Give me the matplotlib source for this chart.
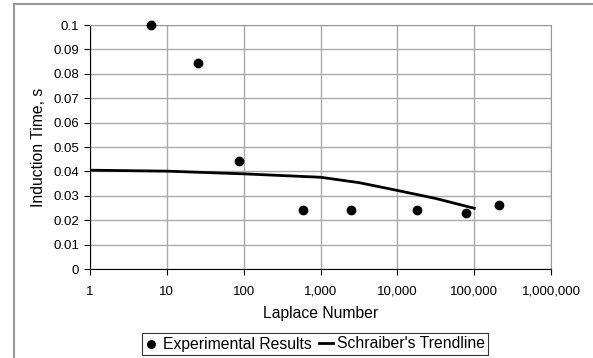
import matplotlib.pyplot as plt
from matplotlib.patches import Rectangle
from matplotlib.ticker import FuncFormatter, FixedLocator

plt.rcParams['font.family'] = ['Liberation Sans', 'DejaVu Sans']

# experimental points
laplace = [6.2, 25.5, 87, 585, 2470, 18000, 78000, 210000]
induction = [0.0998, 0.0843, 0.0443, 0.0240, 0.0241, 0.0243, 0.0231, 0.0262]

# Schraiber's trendline
trend_x = [1, 10, 100, 1000, 3162, 10000, 31623, 100000]
trend_y = [0.0405, 0.0401, 0.0390, 0.0376, 0.0354, 0.0322, 0.0289, 0.0249]

fig = plt.figure(figsize=(5.93, 3.58), dpi=100)
ax = fig.add_axes([90 / 593, 1 - 269 / 358, (551 - 90) / 593, (269 - 25) / 358])

# outer chart border
fig.patches.append(Rectangle((14 / 593, -0.1), 1.2, 1 - 4 / 358 + 0.1,
                             transform=fig.transFigure, fill=False,
                             edgecolor='#999999', linewidth=1.5))

ax.plot(trend_x, trend_y, color='black', linewidth=2,
        label="Schraiber's Trendline", zorder=3)
ax.scatter(laplace, induction, color='black', s=36,
           label='Experimental Results', zorder=4, clip_on=False)

ax.set_xscale('log')
ax.set_xlim(1, 1e6)
ax.set_ylim(0, 0.1)
ax.xaxis.set_major_locator(FixedLocator([1, 10, 100, 1e3, 1e4, 1e5, 1e6]))
ax.xaxis.set_minor_locator(FixedLocator([]))
ax.xaxis.set_major_formatter(FuncFormatter(lambda v, p: f'{int(round(v)):,}'))
ax.set_yticks([i / 100 for i in range(11)])
ax.yaxis.set_major_formatter(FuncFormatter(lambda v, p: f'{v:.2f}'.rstrip('0').rstrip('.') if v else '0'))

ax.grid(True, color='#aaaaaa', linewidth=1)
ax.set_axisbelow(True)
for s in ['top', 'right']:
    ax.spines[s].set_color('#999999')
for s in ['left', 'bottom']:
    ax.spines[s].set_color('black')
ax.tick_params(direction='out', length=4, labelsize=9.5, colors='black', pad=4)
ax.tick_params(axis='x', pad=8)

ax.set_xlabel('Laplace Number', fontsize=11.3, labelpad=6)
ax.set_ylabel('Induction Time, s', fontsize=11.3, labelpad=5)

handles, labels = ax.get_legend_handles_labels()
leg = fig.legend(handles[::-1], labels[::-1], loc='center', ncol=2,
                 bbox_to_anchor=(315 / 593, 1 - 344 / 358), fontsize=11.3,
                 frameon=True, fancybox=False, edgecolor='black',
                 handlelength=0.85, handletextpad=0.3, columnspacing=0.5,
                 borderpad=0.2, borderaxespad=0, markerscale=0.9)
leg.get_frame().set_linewidth(0.8)

fig.savefig('out.png', dpi=100)
